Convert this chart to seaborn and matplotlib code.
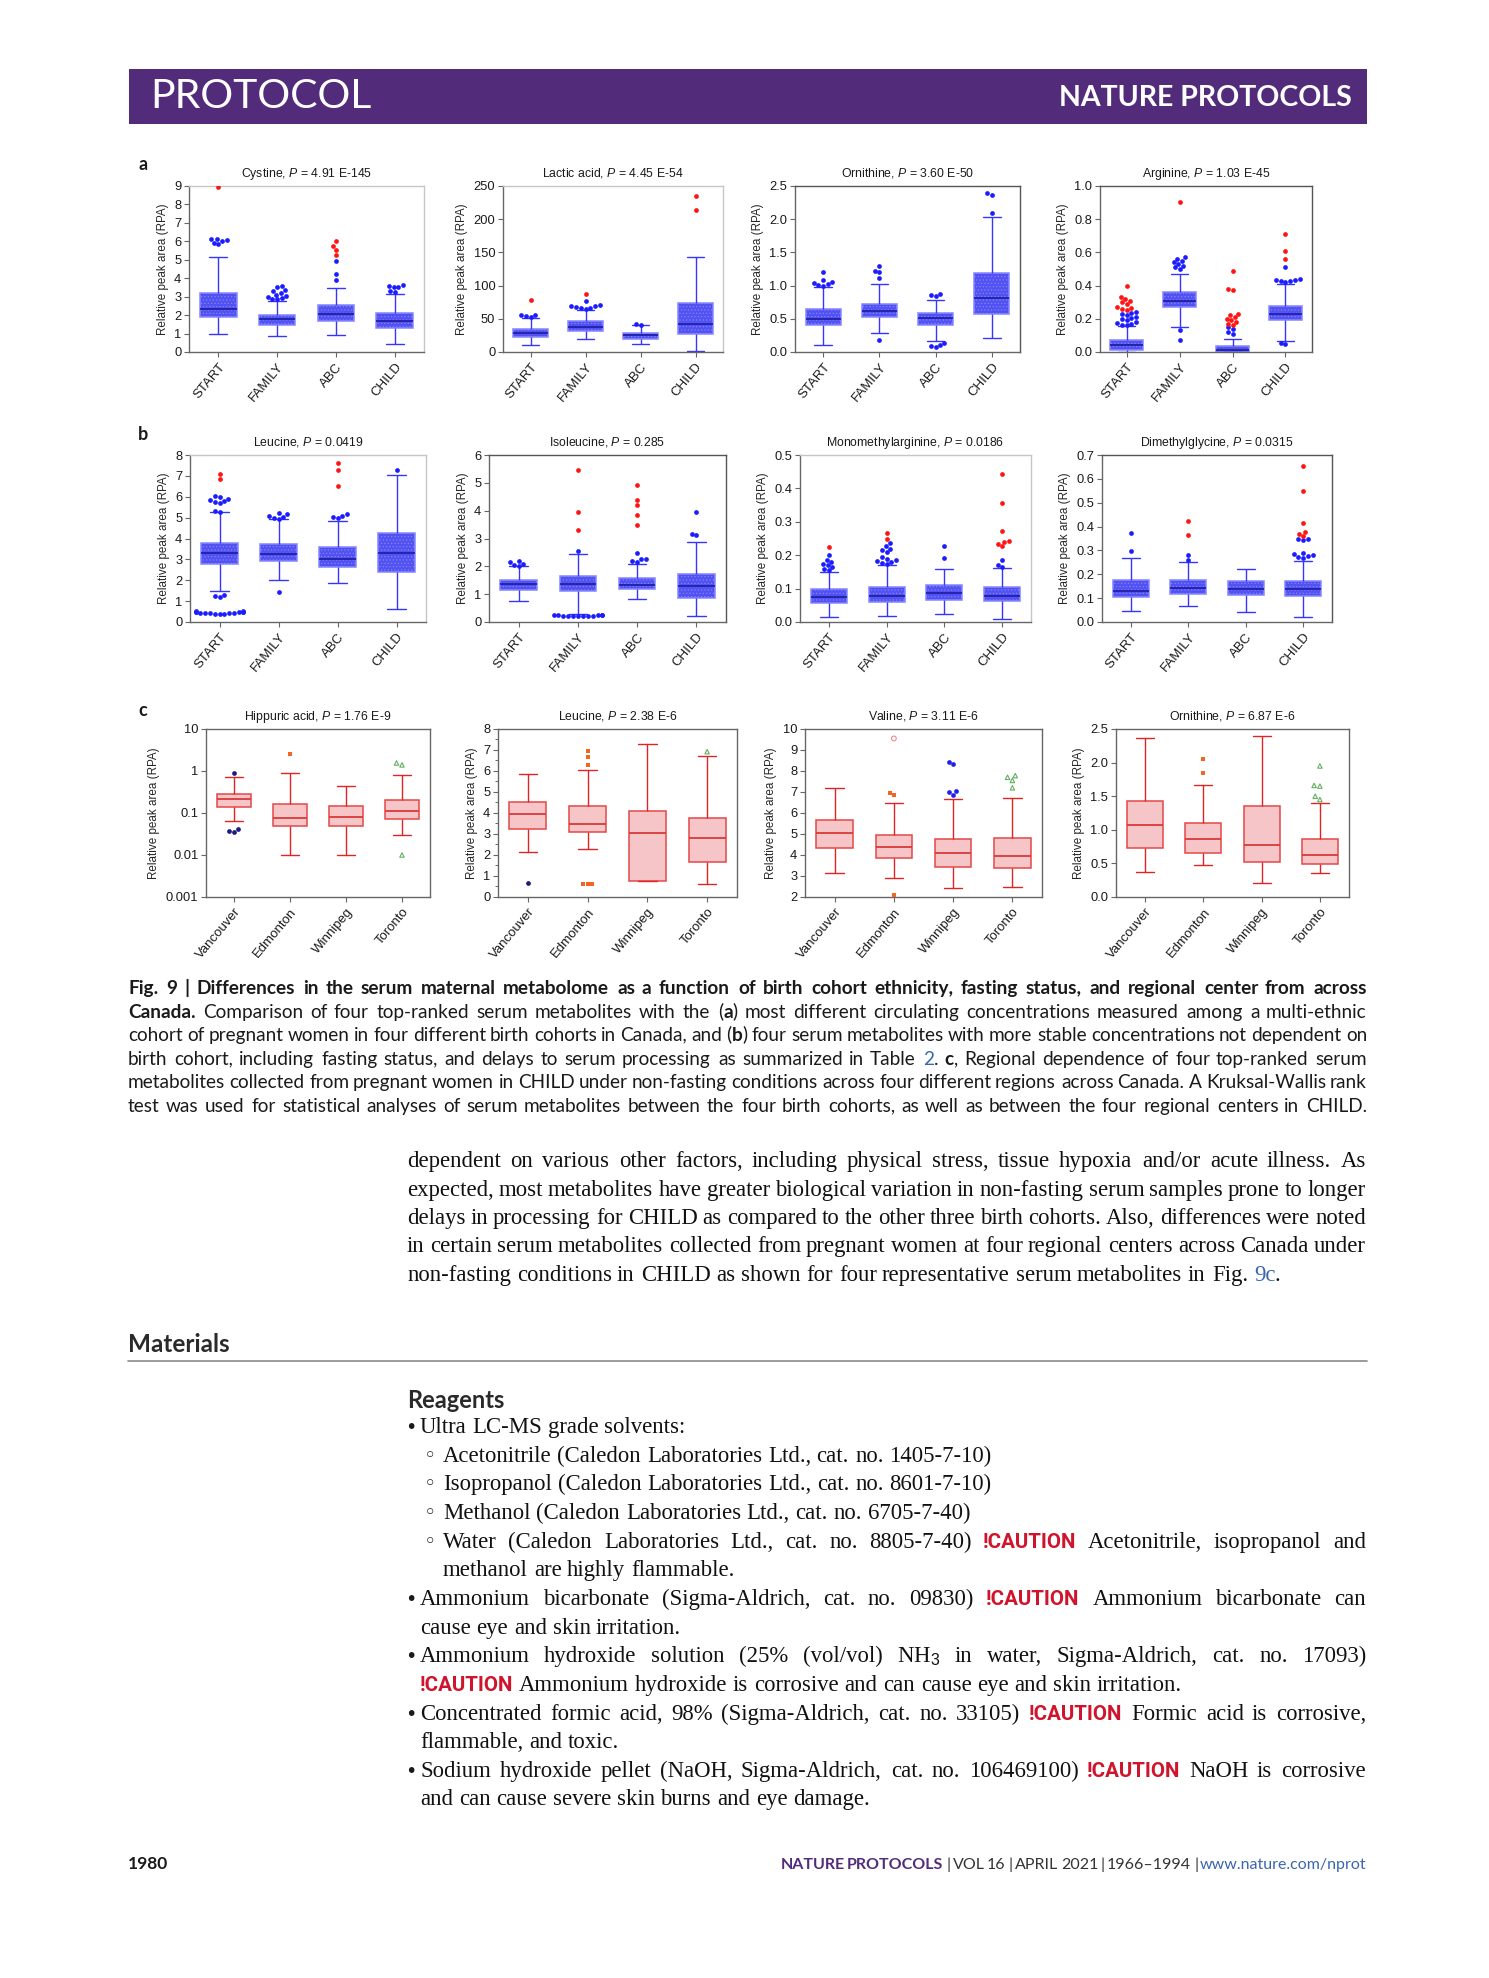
import math
import re

import matplotlib
matplotlib.use("Agg")
import matplotlib.pyplot as plt
import numpy as np
import pandas as pd
import seaborn as sns
from matplotlib.patches import Rectangle
from matplotlib.lines import Line2D
from matplotlib.ticker import NullLocator
from matplotlib.transforms import IdentityTransform

W, H = 1489, 1978
PURPLE = "#522c7a"
LINK = "#3a66b0"
CAUTION = "#d0142c"

COHORTS = ["START", "FAMILY", "ABC", "CHILD"]
CITIES = ["Vancouver", "Edmonton", "Winnipeg", "Toronto"]

# box stats per group: [low whisker, q1, median, q3, high whisker]
cystine_box = [[1.0, 1.9, 2.35, 3.2, 5.15], [0.88, 1.47, 1.78, 2.03, 2.78],
               [0.92, 1.7, 2.07, 2.55, 3.45], [0.45, 1.3, 1.68, 2.1, 3.15]]
cystine_blue = [[5.85, 5.92, 6.0, 6.05, 6.1, 6.15],
                [2.85, 2.9, 2.95, 3.0, 3.05, 3.1, 3.2, 3.3, 3.35, 3.5, 3.6],
                [3.88, 4.25, 4.95], [3.25, 3.3, 3.5, 3.55, 3.6, 3.65]]
cystine_red = [[8.95], [], [5.25, 5.55, 5.75, 6.0], []]

lactic_box = [[10, 22, 28, 35, 51], [19, 31, 37.5, 46, 64],
              [12, 20, 25, 29, 40], [1, 27, 42, 74, 143]]
lactic_blue = [[53, 54, 55, 56], [65, 66, 67, 68, 69, 70, 71, 77], [41, 42], []]
lactic_red = [[79], [88], [], [214, 235]]

ornithine_box = [[0.11, 0.40, 0.50, 0.65, 0.98], [0.29, 0.53, 0.62, 0.73, 1.03],
                 [0.16, 0.41, 0.51, 0.59, 0.79], [0.21, 0.57, 0.82, 1.19, 2.04]]
ornithine_blue = [[1.0, 1.01, 1.02, 1.04, 1.06, 1.08, 1.2], [0.18, 1.12, 1.2, 1.22, 1.3],
                  [0.07, 0.09, 0.11, 0.13, 0.85, 0.86, 0.87], [2.1, 2.37, 2.39]]
ornithine_red = [[], [], [], []]

arginine_box = [[0.0, 0.015, 0.04, 0.075, 0.155], [0.15, 0.27, 0.31, 0.36, 0.47],
                [0.0, 0.0, 0.01, 0.035, 0.08], [0.065, 0.19, 0.23, 0.28, 0.41]]
arginine_blue = [[0.16, 0.165, 0.17, 0.175, 0.18, 0.19, 0.2, 0.205, 0.21, 0.22, 0.23, 0.235, 0.24],
                 [0.075, 0.13, 0.5, 0.51, 0.52, 0.53, 0.54, 0.55, 0.56, 0.57],
                 [0.11, 0.12, 0.14, 0.15],
                 [0.05, 0.055, 0.42, 0.425, 0.43, 0.432, 0.435, 0.44, 0.51]]
arginine_red = [[0.255, 0.26, 0.265, 0.27, 0.29, 0.3, 0.31, 0.32, 0.33, 0.4], [0.905],
                [0.16, 0.17, 0.18, 0.19, 0.2, 0.21, 0.22, 0.23, 0.375, 0.38, 0.49],
                [0.56, 0.61, 0.71]]

leucine_box = [[1.48, 2.8, 3.3, 3.8, 5.25], [2.02, 2.93, 3.28, 3.72, 4.92],
               [1.88, 2.62, 3.02, 3.57, 4.82], [0.63, 2.4, 3.3, 4.27, 7.05]]
leucine_blue = [[0.38, 0.39, 0.4, 0.41, 0.42, 0.43, 0.44, 0.45, 0.46, 0.47, 0.48, 0.49, 0.5,
                 0.51, 0.52, 1.2, 1.25, 1.3, 5.28, 5.3, 5.7, 5.75, 5.8, 5.85, 5.9, 6.0, 6.05],
                [1.45, 4.95, 5.0, 5.05, 5.1, 5.15, 5.2], [5.0, 5.05, 5.1, 5.15], [7.3]]
leucine_red = [[6.85, 7.1], [], [6.5, 7.3, 7.6], []]

isoleucine_box = [[0.75, 1.16, 1.35, 1.52, 2.0], [0.3, 1.1, 1.38, 1.65, 2.43],
                  [0.83, 1.17, 1.33, 1.58, 2.07], [0.23, 0.87, 1.28, 1.73, 2.88]]
isoleucine_blue = [[2.02, 2.05, 2.1, 2.15, 2.2],
                   [0.2, 0.205, 0.21, 0.215, 0.22, 0.225, 0.23, 0.235, 0.24, 0.245, 0.25, 0.25, 2.55],
                   [2.17, 2.2, 2.25, 2.27, 2.47], [3.13, 3.17, 3.95]]
isoleucine_red = [[], [3.3, 3.95, 5.45], [3.5, 3.83, 4.2, 4.4, 4.92], []]

mma_box = [[0.015, 0.058, 0.075, 0.098, 0.15], [0.018, 0.06, 0.078, 0.106, 0.17],
           [0.025, 0.067, 0.086, 0.11, 0.16], [0.008, 0.062, 0.078, 0.104, 0.162]]
mma_blue = [[0.155, 0.16, 0.165, 0.17, 0.175, 0.18, 0.185, 0.2],
            [0.175, 0.178, 0.18, 0.183, 0.185, 0.19, 0.195, 0.21, 0.215, 0.22, 0.228, 0.238],
            [0.192, 0.229], [0.165, 0.172, 0.185]]
mma_red = [[0.224], [0.25, 0.266], [], [0.227, 0.235, 0.24, 0.243, 0.272, 0.357, 0.442]]

dmg_box = [[0.048, 0.104, 0.132, 0.175, 0.27], [0.066, 0.116, 0.143, 0.175, 0.253],
           [0.04, 0.113, 0.138, 0.17, 0.224], [0.02, 0.108, 0.137, 0.171, 0.257]]
dmg_blue = [[0.298, 0.373], [0.258, 0.282], [],
            [0.27, 0.273, 0.278, 0.28, 0.285, 0.29, 0.345, 0.348, 0.35]]
dmg_red = [[], [0.365, 0.422], [], [0.36, 0.37, 0.378, 0.415, 0.55, 0.655]]

hippuric_box = [[0.065, 0.14, 0.21, 0.28, 0.72], [0.0098, 0.05, 0.078, 0.16, 0.92],
                [0.01, 0.048, 0.08, 0.15, 0.44], [0.03, 0.072, 0.11, 0.2, 0.8]]
hippuric_navy = [[0.92, 0.037, 0.042, 0.035], [], [], []]
hippuric_orange = [[], [2.6], [], []]
hippuric_green = [[], [], [], [1.4, 1.55, 0.01]]

leucine_c_box = [[2.13, 3.23, 3.96, 4.5, 5.88], [2.3, 3.08, 3.48, 4.32, 6.03],
                 [0.75, 0.75, 3.05, 4.1, 7.3], [0.63, 1.67, 2.8, 3.75, 6.7]]
leucine_c_navy = [[0.66], [], [], []]
leucine_c_orange = [[], [6.3, 6.68, 6.95, 0.63, 0.63, 0.63], [], []]
leucine_c_green = [[], [], [], [6.92]]

valine_box = [[3.12, 4.32, 5.05, 5.67, 7.2], [2.9, 3.85, 4.37, 4.97, 6.47],
              [2.42, 3.43, 4.1, 4.77, 6.65], [2.47, 3.38, 3.93, 4.8, 6.72]]
valine_orange = [[], [6.85, 6.95, 2.08], [], []]
valine_pink = [[], [9.55], [], []]
valine_blue = [[], [], [6.88, 7.0, 7.05, 8.35, 8.45], []]
valine_green = [[], [], [], [7.2, 7.55, 7.7, 7.78]]

ornithine_c_box = [[0.37, 0.73, 1.07, 1.43, 2.36], [0.47, 0.66, 0.86, 1.1, 1.67],
                   [0.21, 0.52, 0.77, 1.36, 2.39], [0.35, 0.49, 0.62, 0.86, 1.4]]
ornithine_c_orange = [[], [1.84, 2.05], [], []]
ornithine_c_green = [[], [], [], [1.45, 1.5, 1.65, 1.66, 1.95]]

PANELS = [
    dict(name="Cystine", p="4.91 E-145", groups=COHORTS, box=cystine_box,
         points=[("blue", cystine_blue), ("red", cystine_red)], ticks=(0, 9, 1), fmt="{:.0f}", theme="blue"),
    dict(name="Lactic acid", p="4.45 E-54", groups=COHORTS, box=lactic_box,
         points=[("blue", lactic_blue), ("red", lactic_red)], ticks=(0, 250, 50), fmt="{:.0f}", theme="blue"),
    dict(name="Ornithine", p="3.60 E-50", groups=COHORTS, box=ornithine_box,
         points=[("blue", ornithine_blue), ("red", ornithine_red)], ticks=(0, 2.5, 0.5), fmt="{:.1f}", theme="blue"),
    dict(name="Arginine", p="1.03 E-45", groups=COHORTS, box=arginine_box,
         points=[("blue", arginine_blue), ("red", arginine_red)], ticks=(0, 1.0, 0.2), fmt="{:.1f}", theme="blue"),
    dict(name="Leucine", p="0.0419", groups=COHORTS, box=leucine_box,
         points=[("blue", leucine_blue), ("red", leucine_red)], ticks=(0, 8, 1), fmt="{:.0f}", theme="blue"),
    dict(name="Isoleucine", p="0.285", groups=COHORTS, box=isoleucine_box,
         points=[("blue", isoleucine_blue), ("red", isoleucine_red)], ticks=(0, 6, 1), fmt="{:.0f}", theme="blue"),
    dict(name="Monomethylarginine", p="0.0186", groups=COHORTS, box=mma_box,
         points=[("blue", mma_blue), ("red", mma_red)], ticks=(0, 0.5, 0.1), fmt="{:.1f}", theme="blue"),
    dict(name="Dimethylglycine", p="0.0315", groups=COHORTS, box=dmg_box,
         points=[("blue", dmg_blue), ("red", dmg_red)], ticks=(0, 0.7, 0.1), fmt="{:.1f}", theme="blue"),
    dict(name="Hippuric acid", p="1.76 E-9", groups=CITIES, box=hippuric_box, log=True,
         points=[("navy", hippuric_navy), ("orange", hippuric_orange), ("green", hippuric_green)],
         ticks=None, fmt=None, theme="red"),
    dict(name="Leucine", p="2.38 E-6", groups=CITIES, box=leucine_c_box, minor=0.5,
         points=[("navy", leucine_c_navy), ("orange", leucine_c_orange), ("green", leucine_c_green)],
         ticks=(0, 8, 1), fmt="{:.0f}", theme="red"),
    dict(name="Valine", p="3.11 E-6", groups=CITIES, box=valine_box,
         points=[("orange", valine_orange), ("pink", valine_pink), ("vblue", valine_blue), ("green", valine_green)],
         ticks=(2, 10, 1), fmt="{:.0f}", theme="red"),
    dict(name="Ornithine", p="6.87 E-6", groups=CITIES, box=ornithine_c_box,
         points=[("orange", ornithine_c_orange), ("green", ornithine_c_green)],
         ticks=(0, 2.5, 0.5), fmt="{:.1f}", theme="red"),
]

# axes boxes in page pixels: left, top, right, bottom
AXES_PX = [
    (189, 186, 424, 352), (503, 186, 723, 352), (795, 186, 1020, 352), (1100, 186, 1312, 352),
    (190, 455, 426, 622), (489, 455, 726, 622), (800, 455, 1031, 622), (1102, 455, 1332, 622),
    (206, 729, 430, 897), (498, 729, 737, 897), (805, 729, 1042, 897), (1116, 729, 1349, 897),
]
FRAMES = ["#c6c6c6", "#c6c6c6", "#555555", "#555555",
          "#c6c6c6", "#555555", "#c6c6c6", "#555555",
          "#666666", "#666666", "#666666", "#666666"]

THEMES = {
    "blue": dict(fill="#5252f2", edge="#8585ff", line="#3535ff", median="#2020a8", hatch="....."),
    "red": dict(fill="#f6c5c8", edge="#e44848", line="#e02424", median="#d83a3a", hatch=None),
}
POINT_STYLES = {
    "blue": ("#1c1cff", "o", False, 3.4),
    "red": ("#ff1414", "o", False, 3.4),
    "navy": ("#1a1a80", "o", False, 3.4),
    "vblue": ("#2020ee", "o", False, 3.4),
    "orange": ("#f26522", "s", False, 3.2),
    "green": ("#62b062", "^", True, 3.2),
    "pink": ("#f08a8a", "o", True, 3.4),
}

CAPTION = [
    "[b]Fig. 9 | Differences in the serum maternal metabolome as a function of birth cohort ethnicity, fasting status, and regional center from across[/b]",
    "[b]Canada.[/b] Comparison of four top-ranked serum metabolites with the ([b]a[/b]) most different circulating concentrations measured among a multi-ethnic",
    "cohort of pregnant women in four different birth cohorts in Canada, and ([b]b[/b]) four serum metabolites with more stable concentrations not dependent on",
    "birth cohort, including fasting status, and delays to serum processing as summarized in Table [c]2[/c]. [b]c[/b], Regional dependence of four top-ranked serum",
    "metabolites collected from pregnant women in CHILD under non-fasting conditions across four different regions across Canada. A Kruksal-Wallis rank",
    "test was used for statistical analyses of serum metabolites between the four birth cohorts, as well as between the four regional centers in CHILD.",
]
BODY = [
    "dependent on various other factors, including physical stress, tissue hypoxia and/or acute illness. As",
    "expected, most metabolites have greater biological variation in non-fasting serum samples prone to longer",
    "delays in processing for CHILD as compared to the other three birth cohorts. Also, differences were noted",
    "in certain serum metabolites collected from pregnant women at four regional centers across Canada under",
    "non-fasting conditions in CHILD as shown for four representative serum metabolites in Fig. [c]9c[/c].",
]
# (bullet, indent level, text, justified)
REAGENTS = [
    ("\u2022", 0, "Ultra LC-MS grade solvents:", False),
    ("\u25e6", 1, "Acetonitrile (Caledon Laboratories Ltd., cat. no. 1405-7-10)", False),
    ("\u25e6", 1, "Isopropanol (Caledon Laboratories Ltd., cat. no. 8601-7-10)", False),
    ("\u25e6", 1, "Methanol (Caledon Laboratories Ltd., cat. no. 6705-7-40)", False),
    ("\u25e6", 1, "Water (Caledon Laboratories Ltd., cat. no. 8805-7-40) [r]!CAUTION[/r] Acetonitrile, isopropanol and", True),
    ("", 1, "methanol are highly flammable.", False),
    ("\u2022", 0, "Ammonium bicarbonate (Sigma-Aldrich, cat. no. 09830) [r]!CAUTION[/r] Ammonium bicarbonate can", True),
    ("", 0, "cause eye and skin irritation.", False),
    ("\u2022", 0, "Ammonium hydroxide solution (25% (vol/vol) NH$_3$ in water, Sigma-Aldrich, cat. no. 17093)", True),
    ("", 0, "[r]!CAUTION[/r] Ammonium hydroxide is corrosive and can cause eye and skin irritation.", False),
    ("\u2022", 0, "Concentrated formic acid, 98% (Sigma-Aldrich, cat. no. 33105) [r]!CAUTION[/r] Formic acid is corrosive,", True),
    ("", 0, "flammable, and toxic.", False),
    ("\u2022", 0, "Sodium hydroxide pellet (NaOH, Sigma-Aldrich, cat. no. 106469100) [r]!CAUTION[/r] NaOH is corrosive", True),
    ("", 0, "and can cause severe skin burns and eye damage.", False),
]
FOOTER = "[p]NATURE PROTOCOLS[/p] | VOL 16 | APRIL 2021 | 1966\u20131994 | [c]www.nature.com/nprot[/c]"

SANS = ["Liberation Sans", "DejaVu Sans"]
SERIF = ["Liberation Serif", "DejaVu Serif"]
CAPTION_FONT = ["Lato", "DejaVu Sans"]
RUN_STYLES = {
    "b": dict(weight="bold"),
    "c": dict(color=LINK),
    "p": dict(color=PURPLE, weight="bold"),
    "r": dict(color=CAUTION, weight="bold", family=["Roboto", "DejaVu Sans"], scale=0.9),
}


def draw_panel(ax, spec, frame):
    theme = THEMES[spec["theme"]]
    log = spec.get("log", False)
    groups = spec["groups"]
    box_df = pd.DataFrame({"group": np.repeat(groups, 5), "value": np.concatenate(spec["box"])})
    boxprops = dict(edgecolor=theme["edge"], linewidth=1.1)
    if theme["hatch"]:
        boxprops["hatch"] = theme["hatch"]
    sns.boxplot(data=box_df, x="group", y="value", order=groups, whis=(0, 100), width=0.62,
                color=theme["fill"], linecolor=theme["line"], linewidth=1.0, saturation=1,
                showfliers=False, log_scale=log, ax=ax, boxprops=boxprops,
                medianprops=dict(color=theme["median"], linewidth=1.3))

    for kind, values in spec["points"]:
        rows = [(g, v) for g, vals in zip(groups, values) for v in vals]
        if not rows:
            continue
        color, marker, hollow, size = POINT_STYLES[kind]
        pts = pd.DataFrame(rows, columns=["group", "value"])
        n_before = len(ax.collections)
        sns.swarmplot(data=pts, x="group", y="value", order=groups, color=color, marker=marker,
                      size=size, log_scale=log, ax=ax, linewidth=0)
        if hollow:
            for coll in ax.collections[n_before:]:
                coll.set_facecolor("none")
                coll.set_edgecolor(color)
                coll.set_linewidth(0.8)

    ax.set_xlim(-0.5, 3.5)
    if log:
        ax.set_ylim(0.001, 10)
        ticks = [0.001, 0.01, 0.1, 1, 10]
        ax.set_yticks(ticks)
        ax.set_yticklabels(["0.001", "0.01", "0.1", "1", "10"])
        ax.yaxis.set_minor_locator(NullLocator())
    else:
        lo, hi, step = spec["ticks"]
        ticks = np.arange(lo, hi + step / 2, step)
        ax.set_ylim(lo, hi)
        ax.set_yticks(ticks)
        ax.set_yticklabels([spec["fmt"].format(t) for t in ticks])
        if spec.get("minor"):
            ax.set_yticks(np.arange(lo + spec["minor"], hi, 1.0), minor=True)
            ax.tick_params(axis="y", which="minor", length=2.5, width=0.7, color="#666666")
    ax.set_xticks(range(len(groups)))
    ax.set_xticklabels(groups, rotation=50, ha="right", rotation_mode="anchor")
    ax.set_xlabel("")
    ax.set_ylabel("Relative peak area (RPA)", fontsize=8.4, labelpad=4)
    ax.set_title(f"{spec['name']}, $\\mathit{{P}}$ = {spec['p']}", fontsize=8.8, pad=6.5)
    ax.tick_params(axis="both", which="major", length=3.5, width=0.8, color="#666666", pad=2)
    ax.tick_params(axis="y", labelsize=9.3)
    ax.tick_params(axis="x", labelsize=9.5, pad=3)
    for side in ["left", "bottom"]:
        ax.spines[side].set_color("#666666")
    for side in ["top", "right"]:
        ax.spines[side].set_color(frame)
    for sp in ax.spines.values():
        sp.set_linewidth(1.0)
        sp.set_visible(True)


def text_px(fig, x, y, s, **kw):
    return fig.text(x, H - y, s, transform=IdentityTransform(), **kw)


def snap_baseline(t, renderer, s, y):
    """Keep separately drawn words on one pixel baseline (Agg rounds each text on its own)."""
    if "$" in s:
        return
    _, h, d = renderer.get_text_width_height_descent(s, t.get_fontproperties(), ismath=False)
    base_row = round(y)
    y_flip = base_row + math.floor(h) - math.floor(h - d) - d
    t.set_y(H - y_flip)


def parse_runs(line):
    runs, pos = [], 0
    for m in re.finditer(r"\[(\w)\](.*?)\[/\1\]", line):
        if m.start() > pos:
            runs.append((line[pos:m.start()], "n"))
        runs.append((m.group(2), m.group(1)))
        pos = m.end()
    if pos < len(line):
        runs.append((line[pos:], "n"))
    return runs


def split_words(runs):
    words = [[]]
    for text, key in runs:
        for i, part in enumerate(text.split(" ")):
            if i > 0:
                words.append([])
            if part:
                words[-1].append((part, key))
    return [w for w in words if w]


def space_width(fig, renderer, base):
    probe = text_px(fig, 0, 0, "n n", **base)
    w2 = probe.get_window_extent(renderer).width
    probe.set_text("nn")
    space = w2 - probe.get_window_extent(renderer).width
    probe.remove()
    return space


def build_words(fig, renderer, line, x0, y, base):
    items, total = [], 0.0
    for word in split_words(parse_runs(line)):
        parts = []
        for part, key in word:
            kw = {**base, **RUN_STYLES.get(key, {})}
            kw["fontsize"] = base["fontsize"] * kw.pop("scale", 1.0)
            t = text_px(fig, x0, y, part, ha="left", va="baseline", **kw)
            snap_baseline(t, renderer, part, y)
            parts.append((t, t.get_window_extent(renderer).width))
        ww = sum(w for _, w in parts)
        items.append((parts, ww))
        total += ww
    return items, total


def fit_size(fig, renderer, lines, base, squeeze=0.9):
    """Largest font size (<= base size) at which every justified line fits its width."""
    size = base["fontsize"]
    space = space_width(fig, renderer, base)
    for line, avail in lines:
        items, total = build_words(fig, renderer, line, 0, 0, base)
        for parts, _ in items:
            for t, _ in parts:
                t.remove()
        natural = total + squeeze * space * (len(items) - 1)
        size = min(size, base["fontsize"] * avail / natural)
    return size


def draw_line(fig, renderer, line, x0, x1, y, base, mode="left", space_scale=1.0):
    space = space_width(fig, renderer, base)
    items, total = build_words(fig, renderer, line, x0, y, base)
    n = len(items)
    gap = space * space_scale
    if mode == "justify" and n > 1:
        gap = max((x1 - x0 - total) / (n - 1), 0.35 * space)
    line_w = total + gap * (n - 1)
    x = x1 - line_w if mode == "right" else x0
    for parts, _ in items:
        for t, w in parts:
            t.set_x(round(x))
            x += w
        x += gap


def main():
    sns.set_theme(style="ticks")
    plt.rcParams["font.family"] = SANS
    plt.rcParams["mathtext.fontset"] = "custom"
    plt.rcParams["mathtext.rm"] = "Liberation Sans"
    plt.rcParams["mathtext.it"] = "Liberation Sans:italic"
    plt.rcParams["hatch.linewidth"] = 0.45
    plt.rcParams["text.color"] = "#1a1a1a"
    plt.rcParams["xtick.color"] = "#1a1a1a"
    plt.rcParams["ytick.color"] = "#1a1a1a"

    fig = plt.figure(figsize=(W / 100, H / 100), dpi=100)
    fig.patch.set_facecolor("white")
    renderer = fig.canvas.get_renderer()

    # header band
    fig.add_artist(Rectangle((129, H - 124), 1238, 55, transform=IdentityTransform(),
                             facecolor=PURPLE, edgecolor="none"))
    text_px(fig, 150, 96, "PROTOCOL", color="white", fontsize=29.5, family=CAPTION_FONT,
            ha="left", va="center")
    text_px(fig, 1352, 98, "NATURE PROTOCOLS", color="white", fontsize=20.5, weight="bold",
            family=CAPTION_FONT, ha="right", va="center")

    for spec, (l, t, r, b), frame in zip(PANELS, AXES_PX, FRAMES):
        ax = fig.add_axes([l / W, 1 - b / H, (r - l) / W, (b - t) / H])
        draw_panel(ax, spec, frame)

    for letter, y in [("a", 165), ("b", 435), ("c", 710)]:
        text_px(fig, 143, y, letter, fontsize=13, weight="bold", family=CAPTION_FONT,
                ha="center", va="center")

    # caption, justified; size fitted so the tightest line has near-normal spacing
    cap_base = dict(fontsize=14.5, family=CAPTION_FONT, color="#1a1a1a")
    cap_base["fontsize"] = fit_size(fig, renderer, [(c, 1239) for c in CAPTION], cap_base)
    for i, line in enumerate(CAPTION):
        draw_line(fig, renderer, line, 128, 1367, 994 + 23.6 * i, cap_base, mode="justify")

    body_base = dict(fontsize=17.0, family=SERIF, color="#111111")
    fit_lines = [(b, 959) for b in BODY[:-1]]
    fit_lines += [(line, 1366 - (420 if level == 0 else 443))
                  for _, level, line, just in REAGENTS if just]
    body_base["fontsize"] = fit_size(fig, renderer, fit_lines, body_base)
    for i, line in enumerate(BODY):
        mode = "justify" if i < len(BODY) - 1 else "left"
        draw_line(fig, renderer, line, 407, 1366, 1167 + 28.5 * i, body_base, mode=mode)

    text_px(fig, 128, 1345, "Materials", fontsize=17.5, weight="bold", family=CAPTION_FONT,
            color="#2a2a2a", ha="left", va="center")
    fig.add_artist(Line2D([128, 1367], [H - 1361, H - 1361], transform=IdentityTransform(),
                          color="#8a8a8a", linewidth=1.2))
    text_px(fig, 407, 1401, "Reagents", fontsize=17, weight="bold", family=CAPTION_FONT,
            color="#2a2a2a", ha="left", va="center")

    for i, (bullet, level, line, justified) in enumerate(REAGENTS):
        y = 1433 + 28.65 * i
        bx, tx = (405, 420) if level == 0 else (424, 443)
        if bullet:
            text_px(fig, bx, y, bullet, fontsize=14 if level == 0 else 15,
                    family=["DejaVu Sans"], color="#1a1a1a", ha="left", va="baseline")
        draw_line(fig, renderer, line, tx, 1366, y, body_base,
                  mode="justify" if justified else "left")

    text_px(fig, 128, 1864, "1980", fontsize=12.5, weight="bold", family=CAPTION_FONT,
            color="#1a1a1a", ha="left", va="center")
    foot_base = dict(fontsize=11.5, family=CAPTION_FONT, color="#333333")
    draw_line(fig, renderer, FOOTER, 128, 1367, 1869, foot_base, mode="right", space_scale=0.6)

    fig.savefig("out.png", dpi=100, facecolor="white")


if __name__ == "__main__":
    main()
